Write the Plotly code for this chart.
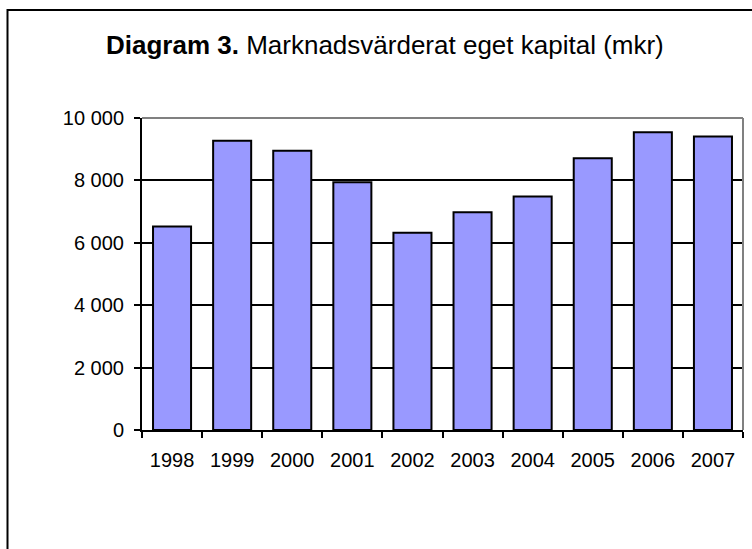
import plotly.graph_objects as go

years = ["1998", "1999", "2000", "2001", "2002", "2003", "2004", "2005", "2006", "2007"]
values = [6520, 9270, 8950, 7940, 6320, 6980, 7480, 8710, 9540, 9410]
y_ticks = [0, 2000, 4000, 6000, 8000, 10000]

W, H = 752, 549
L, R, T, B = 142, 9, 118, 119
pw = W - L - R
ph = H - T - B

def px_x(p):
    return (p - L) / pw

def px_y(p):
    return (H - B - p) / ph

fig = go.Figure(go.Bar(
    x=years, y=values,
    marker=dict(color="#9999FF", line=dict(color="black", width=2)),
))

fig.update_layout(
    width=W, height=H,
    margin=dict(l=L, r=R, t=T, b=B),
    paper_bgcolor="white", plot_bgcolor="white",
    bargap=0.367,
    separators=", ",
    showlegend=False,
    font=dict(family="Liberation Sans, Arial, sans-serif", size=20, color="black"),
    xaxis=dict(
        type="category",
        showgrid=False,
        showline=True, linecolor="black", linewidth=2,
        ticks="outside", tickson="boundaries", ticklen=6, tickwidth=2, tickcolor="black",
        ticklabelstandoff=11,
        tickfont=dict(size=20),
    ),
    yaxis=dict(
        range=[0, 10000],
        tickvals=y_ticks,
        tickformat=",d",
        showgrid=True, gridcolor="black", gridwidth=1.5,
        zeroline=False,
        showline=True, linecolor="black", linewidth=2,
        ticks="outside", ticklen=6, tickwidth=2, tickcolor="black",
        ticklabelstandoff=6,
        tickfont=dict(size=20),
    ),
    shapes=[
        # outer chart border (extends off right/bottom)
        dict(type="rect", xref="paper", yref="paper",
             x0=px_x(7.5), x1=px_x(W + 20), y0=px_y(H + 20), y1=px_y(10),
             line=dict(color="black", width=2), layer="above"),
        # gray plot-area top and right edges
        dict(type="line", xref="paper", yref="paper", x0=0, x1=1, y0=1, y1=1,
             line=dict(color="#808080", width=2), layer="above"),
        dict(type="line", xref="paper", yref="paper", x0=1, x1=1, y0=0, y1=1,
             line=dict(color="#808080", width=2), layer="above"),
    ],
    annotations=[
        dict(text="<b>Diagram 3.</b> Marknadsvärderat eget kapital (mkr)",
             xref="paper", yref="paper", x=px_x(385), y=px_y(45),
             xanchor="center", yanchor="middle", showarrow=False,
             font=dict(size=26)),
    ],
)

fig.write_html(
    "out.html",
    config={"displayModeBar": False},
    post_script="document.body.style.margin='0';document.body.style.overflow='hidden';",
)
